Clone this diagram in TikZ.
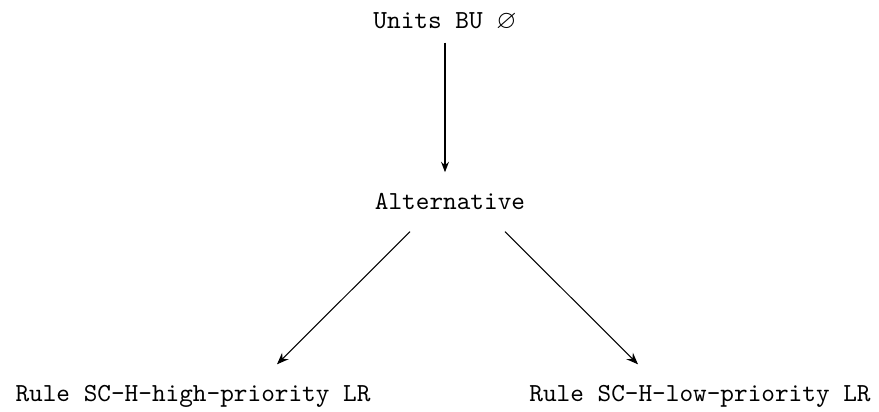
\documentclass[tikz,border=0pt]{standalone}
\usepackage{amssymb}
\usetikzlibrary{calc,arrows.meta}
\begin{document}
\begin{tikzpicture}[x=0.3846pt,y=-0.3846pt,
  lbl/.style={font=\ttfamily, inner sep=0pt, anchor=base},
  thickarrow/.style={line width=1pt, -{Stealth[length=4pt,width=3pt]}},
  thinarrow/.style={line width=0.4pt, -{Stealth[length=4.5pt,width=3.5pt]}}]
  \useasboundingbox (0,0) rectangle (879,412);

  \node[lbl] (top)   at (445,29)  {Units BU $\varnothing$};
  \node[lbl] (alt)   at (450,210) {Alternative};
  \node[lbl] (left)  at (193,402) {Rule SC-H-high-priority LR};
  \node[lbl] (right) at (700,402) {Rule SC-H-low-priority LR};

  \draw[thickarrow] ($(top.south)+(0,11)$) -- ($(top.south |- alt.north)+(0,-21)$);
  \draw[thinarrow] ($(alt.south)+(-40,21)$) -- ($(left.north)+(84,-21)$);
  \draw[thinarrow] ($(alt.south)+(55,21)$) -- ($(right.north)+(-62,-21)$);
\end{tikzpicture}
\end{document}
